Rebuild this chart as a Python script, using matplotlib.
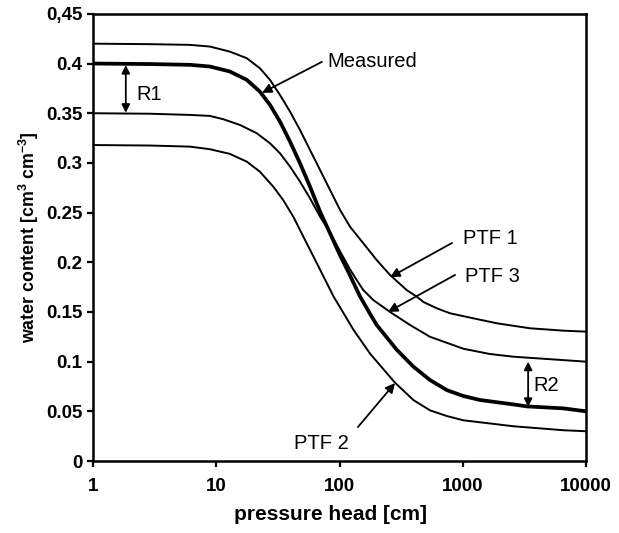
import matplotlib.pyplot as plt

plt.rcParams['font.family'] = ['Liberation Sans', 'DejaVu Sans']
plt.rcParams['mathtext.fontset'] = 'custom'
plt.rcParams['mathtext.rm'] = 'Liberation Sans:bold'
plt.rcParams['mathtext.bf'] = 'Liberation Sans:bold'

# --- data: pressure head h [cm] vs water content [cm3/cm3] ---
h_ptf1 = [1, 2.9, 6.13, 8.89, 12.9, 17.7, 22.6, 27.3, 32.9, 39.7, 47.8, 57.6, 69.5, 83.8, 101,
          121.5, 156, 200, 257, 350, 423, 480, 615, 787, 1220, 1890, 3500, 6540, 10000]
th_ptf1 = [0.420, 0.4195, 0.4188, 0.4171, 0.412, 0.4054, 0.3953, 0.3836, 0.3684, 0.3516, 0.3332,
           0.3131, 0.2930, 0.2728, 0.2527, 0.2359, 0.2191, 0.2023, 0.1872, 0.1721, 0.1654, 0.160,
           0.1537, 0.1487, 0.1436, 0.1386, 0.1336, 0.1312, 0.1302]

h_meas = [1, 2.9, 6.13, 8.89, 12.9, 17.7, 22.6, 27.3, 32.9, 39.7, 47.8, 57.6, 69.5, 83.8, 101,
          121.5, 146, 177, 200, 291, 397, 542, 741, 1011, 1380, 2570, 3300, 6540, 10000]
th_meas = [0.400, 0.3995, 0.3987, 0.397, 0.392, 0.3836, 0.3718, 0.3584, 0.3416, 0.3214, 0.2997,
           0.2762, 0.251, 0.2292, 0.207, 0.187, 0.166, 0.148, 0.137, 0.112, 0.095, 0.0815, 0.0714,
           0.0654, 0.0614, 0.057, 0.055, 0.053, 0.050]

h_ptf3 = [1, 2.9, 6.13, 8.89, 11.4, 15.6, 21.3, 27.3, 32.9, 39.7, 47.8, 57.6, 69.5, 83.8, 101,
          121.5, 138, 156, 188, 257, 372, 542, 1011, 1660, 2570, 4800, 10000]
th_ptf3 = [0.350, 0.3495, 0.3483, 0.3473, 0.344, 0.3382, 0.3299, 0.3198, 0.3097, 0.2963, 0.2812,
           0.2645, 0.2459, 0.230, 0.211, 0.193, 0.182, 0.172, 0.162, 0.150, 0.137, 0.125, 0.113,
           0.1077, 0.105, 0.1027, 0.100]

h_ptf2 = [1, 2.9, 6.13, 8.89, 12.9, 17.7, 22.6, 29.0, 34.9, 42.2, 50.9, 61.5, 74.3, 89.6, 108,
          130, 177, 281, 397, 542, 741, 1011, 2570, 6540, 10000]
th_ptf2 = [0.318, 0.3175, 0.3164, 0.3138, 0.3091, 0.3013, 0.2912, 0.2762, 0.2627, 0.2459, 0.2258,
           0.2057, 0.1855, 0.1654, 0.1487, 0.1319, 0.108, 0.079, 0.0614, 0.051, 0.0453,
           0.041, 0.035, 0.031, 0.030]

x_ticks = [1, 10, 100, 1000, 10000]
y_ticks = [0, 0.05, 0.1, 0.15, 0.2, 0.25, 0.3, 0.35, 0.4, 0.45]
y_tick_labels = ['0', '0.05', '0.1', '0.15', '0.2', '0.25', '0.3', '0.35', '0.4', '0,45']

# --- figure ---
fig = plt.figure(figsize=(6.19, 5.33), dpi=100)
ax = fig.add_axes([0.150, 0.135, 0.797, 0.839])

ax.plot(h_ptf1, th_ptf1, color='black', lw=1.4)
ax.plot(h_ptf3, th_ptf3, color='black', lw=1.4)
ax.plot(h_ptf2, th_ptf2, color='black', lw=1.4)
ax.plot(h_meas, th_meas, color='black', lw=2.7)

ax.set_xscale('log')
ax.set_xlim(1, 10000)
ax.set_ylim(0, 0.45)
ax.set_xticks(x_ticks)
ax.set_xticklabels([str(t) for t in x_ticks])
ax.minorticks_off()
ax.set_yticks(y_ticks)
ax.set_yticklabels(y_tick_labels)
ax.tick_params(axis='both', direction='out', length=4.5, width=1.6, labelsize=13.5)
ax.tick_params(axis='x', pad=8)
ax.tick_params(axis='y', pad=3)
for lab in ax.get_xticklabels() + ax.get_yticklabels():
    lab.set_fontweight('bold')
for sp in ax.spines.values():
    sp.set_linewidth(1.8)

ax.set_xlabel('pressure head [cm]', fontsize=15, fontweight='bold')
ax.xaxis.set_label_coords(0.481, -0.098)
ax.set_ylabel(r'water content [cm$^{3}$ cm$^{-3}$]', fontsize=12.8, fontweight='bold',
              labelpad=4)

# --- annotations ---
arr = dict(arrowstyle='-|>', color='black', lw=1.3, mutation_scale=14, shrinkA=0, shrinkB=0)
dbl = dict(arrowstyle='<|-|>', color='black', lw=1.3, mutation_scale=12, shrinkA=0, shrinkB=0)

ax.annotate('', xy=(23.5, 0.3705), xytext=(72, 0.4017), arrowprops=arr)
ax.text(80, 0.4017, 'Measured', fontsize=14.5, va='center', ha='left')

ax.annotate('', xy=(257, 0.185), xytext=(818, 0.2195), arrowprops=arr)
ax.text(1000, 0.2235, 'PTF 1', fontsize=14.5, va='center', ha='left')

ax.annotate('', xy=(247, 0.150), xytext=(865, 0.1873), arrowprops=arr)
ax.text(1050, 0.186, 'PTF 3', fontsize=14.5, va='center', ha='left')

ax.annotate('', xy=(282, 0.0785), xytext=(141, 0.0342), arrowprops=arr)
ax.text(71, 0.018, 'PTF 2', fontsize=14.5, va='center', ha='center')

ax.annotate('', xy=(1.85, 0.3985), xytext=(1.85, 0.3505), arrowprops=dbl)
ax.text(2.27, 0.369, 'R1', fontsize=14.5, va='center', ha='left')

ax.annotate('', xy=(3383, 0.100), xytext=(3383, 0.0545), arrowprops=dbl)
ax.text(3716, 0.0765, 'R2', fontsize=14.5, va='center', ha='left')

fig.savefig('out.png', dpi=100)
